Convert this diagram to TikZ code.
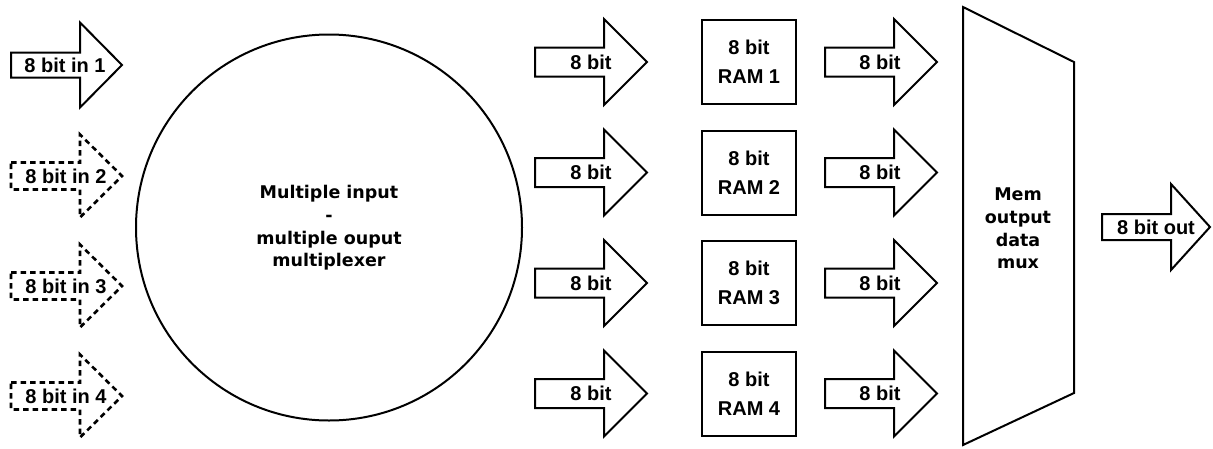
\documentclass[tikz,border=0pt]{standalone}
\usepackage{fontspec}
\setmainfont{Liberation Sans}
\newfontfamily\dvs{DejaVu Sans}
\newcommand\fatarrow[7]{%
  \draw[#1] (#2,{#5-#6}) -- (#3,{#5-#6}) -- (#3,{#5-#7}) -- (#4,#5)
    -- (#3,{#5+#7}) -- (#3,{#5+#6}) -- (#2,{#5+#6}) -- cycle;}
\tikzset{
  shp/.style={draw, line width=2pt, line join=miter},
  dsh/.style={draw, line width=2.6pt, line join=miter, dash pattern=on 5.5pt off 4pt},
  lbl/.style={font=\fontsize{20}{22}\selectfont\bfseries, inner sep=0pt},
  dlbl/.style={font=\dvs\fontsize{17.5}{22.6}\selectfont\bfseries, align=center, inner sep=0pt},
  rambox/.style={draw, line width=2pt, minimum width=94pt, minimum height=84pt,
    inner sep=0pt, align=center, font=\fontsize{20}{29}\selectfont\bfseries},
}
\begin{document}
\begin{tikzpicture}[x=1pt,y=-1pt]
\useasboundingbox (0,0) rectangle (1213,448);
% input arrows
\fatarrow{shp}{11}{80}{122}{65}{12.5}{42.5}
\node[lbl] (in1) at (65,65) {8 bit in 1};
\fatarrow{dsh}{11}{80}{122}{176}{13.5}{41.5}
\node[lbl] (in2) at (66,176) {8 bit in 2};
\fatarrow{dsh}{11}{80}{122}{286}{13.5}{41.5}
\node[lbl] (in3) at (66,286) {8 bit in 3};
\fatarrow{dsh}{11}{80}{122}{396}{13.5}{41.5}
\node[lbl] (in4) at (66,396) {8 bit in 4};
% circle
\node[draw, circle, line width=2pt, minimum size=386pt, inner sep=0pt] (mimo) at (329,227.5) {};
\node[dlbl] (mimot) at (329,228) {Multiple input\\-\\multiple ouput\\multiplexer};
% RAM arrows, boxes, output arrows
\foreach \y/\n in {62/1,172.5/2,283/3,393.5/4}{
  \fatarrow{shp}{535}{604}{647}{\y}{14.5}{43}
  \node[lbl] (a\n) at (591,\y) {8 bit};
  \node[rambox] (ram\n) at (749,\y) {8 bit\\RAM \n};
  \fatarrow{shp}{825}{894}{937}{\y}{14.5}{43}
  \node[lbl] (b\n) at (880,\y) {8 bit};
}
% output mux
\draw[shp] (963,7) -- (1074,62) -- (1074,393) -- (963,445) -- cycle;
\node[dlbl] (muxt) at (1018,228.5) {Mem\\output\\data\\mux};
% output arrow
\fatarrow{shp}{1102}{1171}{1210}{227}{13}{43}
\node[lbl] (out) at (1156,227) {8 bit out};
\end{tikzpicture}
\end{document}
